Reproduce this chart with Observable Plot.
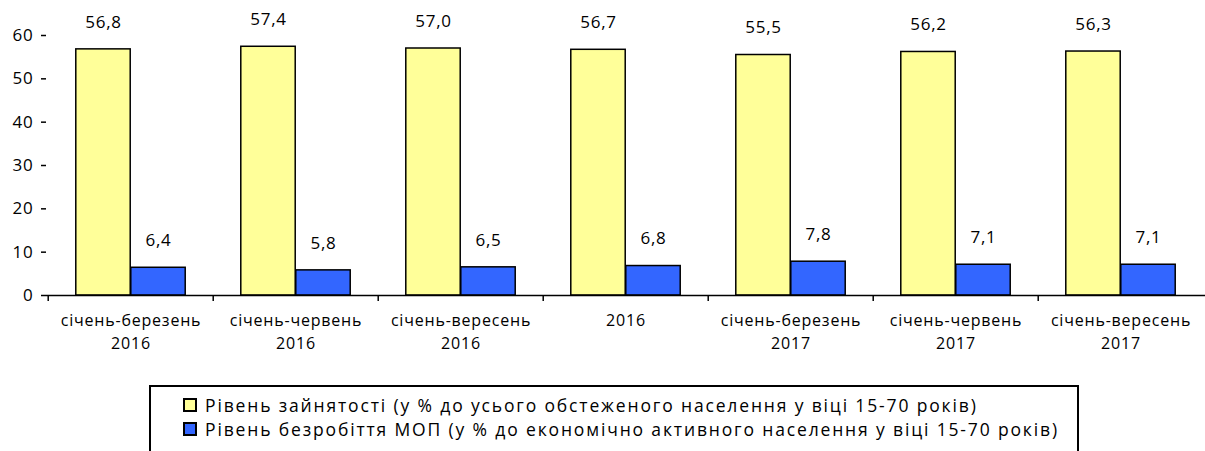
<!DOCTYPE html>
<html><head><meta charset="utf-8">
<script src="https://cdn.jsdelivr.net/npm/d3@7"></script>
<script src="https://cdn.jsdelivr.net/npm/@observablehq/plot@0.6"></script>
<style>
body{margin:0;background:#fff;font-family:"Open Sans",sans-serif;}
#wrap{position:relative;width:1205px;height:451px;overflow:hidden;}
#legend{position:absolute;left:149px;top:385px;width:930px;height:80px;border:2px solid #000;box-sizing:border-box;padding:6px 0 0 32px;font-size:17.5px;letter-spacing:1.85px;color:#000;}
#legend .row{display:flex;align-items:center;height:24px;white-space:nowrap;}
#legend .sw{width:10px;height:10px;border:2px solid #000;margin-right:8px;flex:none;}
</style></head><body>
<div id="wrap"><div id="chart"></div><div id="legend"></div></div>
<script>
const periods = ["січень-березень\n2016","січень-червень\n2016","січень-вересень\n2016","2016","січень-березень\n2017","січень-червень\n2017","січень-вересень\n2017"];
const employment = [56.8,57.4,57.0,56.7,55.5,56.2,56.3];
const unemployment = [6.4,5.8,6.5,6.8,7.8,7.1,7.1];
const seriesNames = ["Рівень зайнятості (у % до усього обстеженого населення у віці 15-70 років)","Рівень безробіття МОП (у % до економічно активного населення у віці 15-70 років)"];
const colors = ["#FFFF99","#3366FF"];
const yTicks = [0,10,20,30,40,50,60];

const W = 1205, ML = 46, MR = 0;
const bw = (W - ML - MR) / periods.length;
const barW = 55;
const outer = (bw - 2 * barW) / 2;
const fmt = v => v.toFixed(1).replace(".", ",");

const emp = periods.map((p, i) => ({period: p, value: employment[i]}));
const une = periods.map((p, i) => ({period: p, value: unemployment[i]}));

const chart = Plot.plot({
  width: W, height: 380,
  marginLeft: ML, marginRight: MR, marginTop: 35, marginBottom: 85,
  style: "font-family:'Open Sans',sans-serif;font-size:16px;color:#000;background:#fff;letter-spacing:0.8px;",
  x: {domain: periods, padding: 0, label: null},
  y: {domain: [0, 60], label: null},
  marks: [
    Plot.barY(emp, {x: "period", y: "value", fill: colors[0], stroke: "#000", strokeWidth: 1.5, insetLeft: outer, insetRight: outer + barW}),
    Plot.barY(une, {x: "period", y: "value", fill: colors[1], stroke: "#000", strokeWidth: 1.5, insetLeft: outer + barW, insetRight: outer}),
    Plot.text(emp, {x: "period", y: "value", text: d => fmt(d.value), dx: -barW / 2, dy: -27, fontSize: 17}),
    Plot.text(une, {x: "period", y: "value", text: d => fmt(d.value), dx: barW / 2, dy: -27, fontSize: 17}),
    Plot.ruleY([0], {stroke: "#000", strokeWidth: 1.5}),
    Plot.axisY({ticks: yTicks, tickSize: 5, tickPadding: 8, line: true, strokeWidth: 1.5, label: null, fontSize: 17}),
    Plot.axisX({tickSize: 6, tickFormat: () => "", dx: -bw / 2, strokeWidth: 1.5, label: null}),
    Plot.axisX({tickSize: 0, tickPadding: 15, lineHeight: 1.4, label: null, fontSize: 16})
  ]
});
document.getElementById("chart").appendChild(chart);

const legend = document.getElementById("legend");
seriesNames.forEach((n, i) => {
  const row = document.createElement("div");
  row.className = "row";
  const sw = document.createElement("span");
  sw.className = "sw";
  sw.style.background = colors[i];
  const t = document.createElement("span");
  t.textContent = n;
  row.appendChild(sw); row.appendChild(t);
  legend.appendChild(row);
});
</script>
</body></html>
